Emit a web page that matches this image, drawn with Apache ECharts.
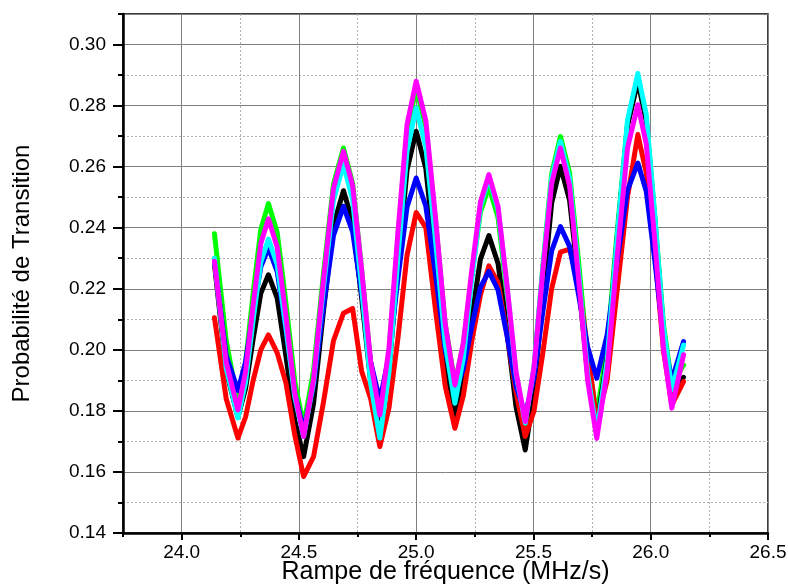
<!DOCTYPE html>
<html>
<head>
<meta charset="utf-8">
<script src="https://cdn.jsdelivr.net/npm/echarts@6/dist/echarts.min.js"></script>
<style>html,body{margin:0;padding:0;background:#fff}#c{width:788px;height:585px}</style>
</head>
<body>
<div id="c"></div>
<script>
// Frequency ramp values (MHz/s)
var X = [24.14, 24.19, 24.24,
  24.2725, 24.305, 24.3375, 24.37,
  24.4075, 24.445, 24.4825, 24.52,
  24.5625, 24.605, 24.6475, 24.69,
  24.729, 24.7675, 24.806, 24.845,
  24.884, 24.9225, 24.961, 25.00,
  25.041, 25.0825, 25.124, 25.165,
  25.201, 25.2375, 25.274, 25.31,
  25.349, 25.3875, 25.426, 25.465,
  25.5025, 25.54, 25.5775, 25.615,
  25.654, 25.6925, 25.731, 25.77,
  25.814, 25.8575, 25.901, 25.945,
  25.981, 26.0175, 26.054, 26.09,
  26.14];

var green = [0.238, 0.203, 0.1826,
  0.1957, 0.2185, 0.2394, 0.2479,
  0.2384, 0.2151, 0.1896, 0.175,
  0.1932, 0.2251, 0.2543, 0.2661,
  0.2546, 0.2263, 0.1954, 0.1777,
  0.1993, 0.2372, 0.2717, 0.2858,
  0.2732, 0.2422, 0.2084, 0.189,
  0.2019, 0.2245, 0.2451, 0.2535,
  0.2433, 0.2182, 0.1907, 0.175,
  0.194, 0.2272, 0.2576, 0.2699,
  0.2580, 0.2289, 0.1969, 0.1787,
  0.2007, 0.2391, 0.2742, 0.2885,
  0.2755, 0.2435, 0.2085, 0.1885,
  0.195];

var black = [0.228, 0.193, 0.178,
  0.1873, 0.2036, 0.2185, 0.2246,
  0.2169, 0.1978, 0.1769, 0.165,
  0.1824, 0.2129, 0.2408, 0.2521,
  0.2419, 0.2169, 0.1895, 0.1738,
  0.1934, 0.2276, 0.2589, 0.2716,
  0.2594, 0.2295, 0.1968, 0.1781,
  0.1900, 0.2107, 0.2297, 0.2374,
  0.2283, 0.2058, 0.1812, 0.1672,
  0.1858, 0.2183, 0.2480, 0.2601,
  0.2490, 0.2218, 0.1920, 0.175,
  0.1976, 0.2372, 0.2733, 0.288,
  0.2747, 0.2421, 0.2064, 0.186,
  0.191];

var red = [0.2105, 0.184, 0.1711,
  0.178, 0.190, 0.200, 0.2049,
  0.199, 0.189, 0.172, 0.1585,
  0.165, 0.183, 0.203, 0.212,
  0.2135, 0.193, 0.184, 0.1683,
  0.181, 0.204, 0.231, 0.245,
  0.240, 0.213, 0.188, 0.1743,
  0.185, 0.203, 0.218, 0.2275,
  0.222, 0.205, 0.186, 0.1716,
  0.180, 0.199, 0.220, 0.232,
  0.233, 0.222, 0.200, 0.1765,
  0.190, 0.220, 0.250, 0.2705,
  0.258, 0.232, 0.200, 0.182,
  0.1896];

var blue = [0.229, 0.198, 0.1867,
  0.1960, 0.2123, 0.2272, 0.2333,
  0.2256, 0.2065, 0.1857, 0.1738,
  0.1884, 0.2141, 0.2375, 0.247,
  0.2387, 0.2184, 0.1961, 0.1834,
  0.1980, 0.2235, 0.2468, 0.2563,
  0.2471, 0.2246, 0.1999, 0.1858,
  0.1938, 0.2077, 0.2205, 0.2257,
  0.2196, 0.2045, 0.1881, 0.1787,
  0.1910, 0.2126, 0.2324, 0.2404,
  0.2339, 0.2180, 0.2009, 0.1907,
  0.2048, 0.2295, 0.2522, 0.2612,
  0.2519, 0.2292, 0.2042, 0.190,
  0.2027];

var cyan = [0.230, 0.194, 0.1777,
  0.1894, 0.2099, 0.2287, 0.2363,
  0.2279, 0.2072, 0.1845, 0.1716,
  0.1894, 0.2206, 0.2491, 0.2607,
  0.2491, 0.2204, 0.1890, 0.1711,
  0.1927, 0.2306, 0.2651, 0.2792,
  0.2666, 0.2357, 0.2019, 0.1825,
  0.1973, 0.2232, 0.2469, 0.2565,
  0.2460, 0.2203, 0.1921, 0.176,
  0.1945, 0.2268, 0.2563, 0.2683,
  0.2559, 0.2254, 0.1921, 0.173,
  0.1965, 0.2376, 0.2752, 0.2905,
  0.2770, 0.2439, 0.2076, 0.1869,
  0.2016];

var magenta = [0.229, 0.196, 0.1803,
  0.1928, 0.2147, 0.2348, 0.2429,
  0.2336, 0.2108, 0.1858, 0.1716,
  0.1903, 0.2230, 0.2529, 0.265,
  0.2538, 0.2262, 0.1960, 0.1787,
  0.2006, 0.2388, 0.2738, 0.288,
  0.2751, 0.2432, 0.2084, 0.1885,
  0.2023, 0.2264, 0.2484, 0.2574,
  0.2469, 0.2210, 0.1927, 0.1765,
  0.1944, 0.2258, 0.2545, 0.2661,
  0.2537, 0.2233, 0.1900, 0.171,
  0.1929, 0.2311, 0.2661, 0.2803,
  0.2674, 0.2356, 0.2008, 0.1809,
  0.1984];

var seriesList = [
  {name: 'green', values: green, color: '#00ff00'},
  {name: 'black', values: black, color: '#000000'},
  {name: 'red', values: red, color: '#ff0000'},
  {name: 'blue', values: blue, color: '#0000ff'},
  {name: 'cyan', values: cyan, color: '#00ffff'},
  {name: 'magenta', values: magenta, color: '#ff00ff'}
];

var FONT = 'Liberation Sans, Arial, sans-serif';

function pairs(vals) {
  return X.map(function (x, i) { return [x, vals[i]]; });
}

var chart = echarts.init(document.getElementById('c'), null, {renderer: 'canvas'});
chart.setOption({
  animation: false,
  backgroundColor: '#ffffff',
  grid: {left: 123, right: 20, top: 14, bottom: 52, show: true, borderColor: '#000', borderWidth: 1.5, outerBoundsMode: 'none'},
  xAxis: [
    {
      type: 'value', position: 'bottom', min: 23.75, max: 26.5, interval: 0.25,
      axisLine: {show: true, onZero: false, lineStyle: {color: '#000', width: 2.5}},
      axisTick: {show: true, inside: false, length: 4, lineStyle: {color: '#000', width: 2}},
      axisLabel: {show: false},
      splitLine: {show: true, lineStyle: {color: '#b0b0b0', type: [2, 2], width: 1}}
    },
    {
      type: 'value', position: 'bottom', min: 23.75, max: 26.5, splitNumber: 5,
      name: 'Rampe de fréquence (MHz/s)', nameLocation: 'middle', nameGap: 27, nameMoveOverlap: false,
      nameTextStyle: {fontFamily: FONT, fontSize: 25, color: '#000'},
      axisLine: {show: false, onZero: false},
      axisTick: {show: true, inside: false, length: 7, lineStyle: {color: '#000', width: 2}},
      axisLabel: {show: true, margin: 10, showMinLabel: false, fontFamily: FONT, fontSize: 19, color: '#000',
        formatter: function (v) { return Math.abs(v - 23.75) < 1e-6 ? '' : v.toFixed(1); }},
      splitLine: {show: true, lineStyle: {color: '#808080', width: 1}}
    }
  ],
  yAxis: [
    {
      type: 'value', position: 'left', min: 0.14, max: 0.31, interval: 0.01,
      axisLine: {show: true, onZero: false, lineStyle: {color: '#000', width: 2.5}},
      axisTick: {show: true, inside: false, length: 5, lineStyle: {color: '#000', width: 2}},
      axisLabel: {show: false},
      splitLine: {show: true, lineStyle: {color: '#b0b0b0', type: [2, 2], width: 1}}
    },
    {
      type: 'value', position: 'left', min: 0.14, max: 0.31, interval: 0.02,
      name: 'Probabilité de Transition', nameLocation: 'middle', nameGap: 89, nameRotate: 90, nameMoveOverlap: false,
      nameTextStyle: {fontFamily: FONT, fontSize: 24, color: '#000'},
      axisLine: {show: false, onZero: false},
      axisTick: {show: true, inside: false, length: 10, lineStyle: {color: '#000', width: 2}},
      axisLabel: {show: true, margin: 17, showMaxLabel: false, fontFamily: FONT, fontSize: 19, color: '#000',
        formatter: function (v) { return Math.abs(v - 0.31) < 1e-6 ? '' : v.toFixed(2); }},
      splitLine: {show: true, lineStyle: {color: '#808080', width: 1}}
    }
  ],
  series: seriesList.map(function (s, i) {
    return {
      type: 'line', name: s.name, xAxisIndex: 0, yAxisIndex: 0,
      data: pairs(s.values), showSymbol: false, smooth: false, z: 3 + i,
      lineStyle: {color: s.color, width: 5, join: 'round', cap: 'round'},
      itemStyle: {color: s.color}
    };
  })
});
</script>
</body>
</html>
